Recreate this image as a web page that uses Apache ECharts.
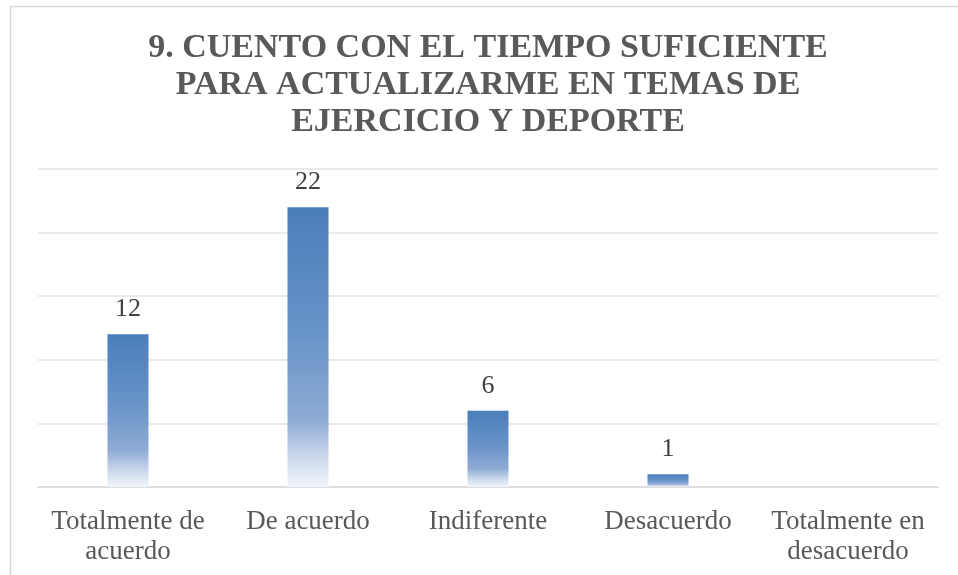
<!DOCTYPE html>
<html>
<head>
<meta charset="utf-8">
<script src="https://cdn.jsdelivr.net/npm/echarts@6/dist/echarts.min.js"></script>
<style>
html,body{margin:0;padding:0;background:#fff;}
#c{width:958px;height:575px;}
</style>
</head>
<body>
<div id="c"></div>
<script>
var titleText = "9. CUENTO CON EL TIEMPO SUFICIENTE\nPARA ACTUALIZARME EN TEMAS DE\nEJERCICIO Y DEPORTE";
var categories = ["Totalmente de\nacuerdo", "De acuerdo", "Indiferente", "Desacuerdo", "Totalmente en\ndesacuerdo"];
var values = [12, 22, 6, 1, null];
var yMin = 0, yMax = 25, yInterval = 5;

var chart = echarts.init(document.getElementById('c'), null, {renderer: 'canvas'});
var serif = 'Liberation Serif';
chart.setOption({
  animation: false,
  backgroundColor: '#ffffff',
  textStyle: {fontFamily: serif},
  graphic: [{
    type: 'rect', left: 8, top: 4,
    shape: {width: 1000, height: 620},
    style: {fill: 'none', stroke: '#d9d9d9', lineWidth: 1.5},
    silent: true
  }],
  title: {
    text: titleText,
    left: 483, top: 25,
    textAlign: 'center',
    textStyle: {fontFamily: serif, fontWeight: 'bold', fontSize: 34, lineHeight: 37, color: '#595959'}
  },
  grid: {left: 38, right: 20, top: 169, bottom: 88, containLabel: false},
  xAxis: {
    type: 'category', data: categories,
    axisLine: {show: true, lineStyle: {color: '#d9d9d9', width: 1.5}},
    axisTick: {show: false},
    axisLabel: {fontFamily: serif, fontSize: 27, lineHeight: 30, color: '#595959', margin: 20, interval: 0}
  },
  yAxis: {
    type: 'value', min: yMin, max: yMax, interval: yInterval,
    axisLine: {show: false}, axisTick: {show: false}, axisLabel: {show: false},
    splitLine: {lineStyle: {color: '#e3e3e3', width: 1.5}}
  },
  series: [{
    type: 'bar', data: values, barWidth: 41,
    itemStyle: {
      color: new echarts.graphic.LinearGradient(0, 0, 0, 1, [
        {offset: 0, color: '#4a7ebb'},
        {offset: 0.45, color: '#6893c8'},
        {offset: 0.76, color: '#8eabd4'},
        {offset: 0.88, color: '#c5d4ea'},
        {offset: 1, color: '#f3f6fb'}
      ])
    },
    label: {show: true, position: 'top', distance: 12, fontFamily: serif, fontSize: 26, color: '#404040'}
  }]
});
</script>
</body>
</html>
